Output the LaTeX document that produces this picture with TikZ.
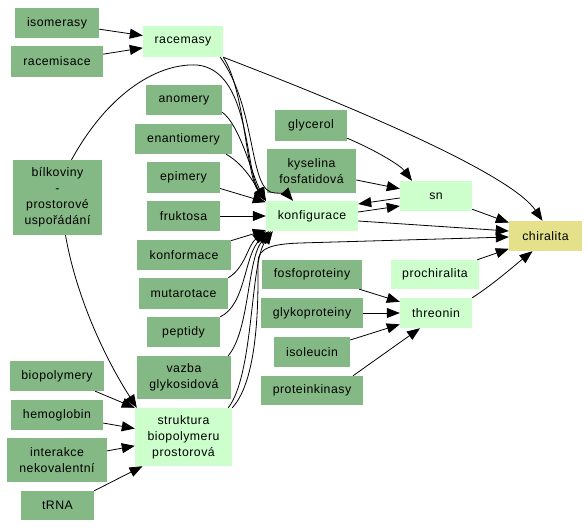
\documentclass[tikz,border=0pt]{standalone}
\usepackage{fontspec}
\setmainfont{Liberation Sans}[LetterSpace=4]
\usetikzlibrary{arrows.meta}
\definecolor{dkg}{HTML}{84B884}
\definecolor{ltg}{HTML}{CCFFCC}
\definecolor{yel}{HTML}{E5E08A}
\tikzset{
  box/.style={inner sep=0pt, align=center, font=\fontsize{12.3}{16}\selectfont},
  dk/.style={box, fill=dkg},
  lt/.style={box, fill=ltg},
  yl/.style={box, fill=yel},
  e/.style={line width=0.8pt, -{Triangle[length=13pt,width=10pt]}},
}
\begin{document}
\begin{tikzpicture}[x=1pt,y=-1pt]
\useasboundingbox (0,0) rectangle (588,527);
% nodes
\node[dk, minimum width=84pt, minimum height=30pt] (iso) at (57,23) {isomerasy};
\node[dk, minimum width=92pt, minimum height=31pt] (rcs) at (57,61.5) {racemisace};
\node[lt, minimum width=80pt, minimum height=31pt] (rcm) at (183,41.5) {racemasy};
\node[dk, minimum width=76pt, minimum height=30pt] (ano) at (184,100) {anomery};
\node[dk, minimum width=97pt, minimum height=30pt] (ena) at (183.5,139) {enantiomery};
\node[dk, minimum width=73pt, minimum height=31pt] (epi) at (183.5,177.5) {epimery};
\node[dk, minimum width=73pt, minimum height=30pt] (fru) at (183.5,216) {fruktosa};
\node[dk, minimum width=94pt, minimum height=30pt] (kfm) at (184,255) {konformace};
\node[dk, minimum width=89pt, minimum height=31pt] (mut) at (183.5,293.5) {mutarotace};
\node[dk, minimum width=73pt, minimum height=30pt] (pep) at (183.5,332) {peptidy};
\node[dk, minimum width=94pt, minimum height=43pt] (vaz) at (184,377.5) {vazba\\glykosidová};
\node[lt, minimum width=97pt, minimum height=58pt] (str) at (183.5,437) {struktura\\biopolymeru\\prostorová};
\node[dk, minimum width=89pt, minimum height=75pt] (bil) at (57.5,197.5) {bílkoviny\\-\\prostorové\\uspořádání};
\node[dk, minimum width=94pt, minimum height=30pt] (bpl) at (57,376) {biopolymery};
\node[dk, minimum width=92pt, minimum height=30pt] (hem) at (57,415) {hemoglobin};
\node[dk, minimum width=100pt, minimum height=44pt] (int) at (57,460) {interakce\\nekovalentní};
\node[dk, minimum width=73pt, minimum height=29pt] (trna) at (57.5,505.5) {tRNA};
\node[dk, minimum width=72pt, minimum height=31pt] (gly) at (311,125.5) {glycerol};
\node[dk, minimum width=89pt, minimum height=44pt] (kys) at (311.5,171) {kyselina\\fosfatidová};
\node[lt, minimum width=92pt, minimum height=30pt] (konf) at (312,216) {konfigurace};
\node[lt, minimum width=72pt, minimum height=30pt] (sn) at (436,196) {sn};
\node[yl, minimum width=73pt, minimum height=30pt] (chi) at (545.5,236) {chiralita};
\node[lt, minimum width=88pt, minimum height=29pt] (pro) at (435,274.5) {prochiralita};
\node[dk, minimum width=100pt, minimum height=29pt] (fos) at (312,274.5) {fosfoproteiny};
\node[dk, minimum width=102pt, minimum height=30pt] (gpr) at (312,313) {glykoproteiny};
\node[lt, minimum width=72pt, minimum height=30pt] (thr) at (436,313) {threonin};
\node[dk, minimum width=76pt, minimum height=30pt] (ile) at (312,352) {isoleucin};
\node[dk, minimum width=102pt, minimum height=29pt] (pki) at (312,390.5) {proteinkinasy};
% edges
\draw[e] (iso) -- (rcm);
\draw[e] (rcs) -- (rcm);
\draw[e] (rcm.south east) .. controls (400,125) and (515,180) .. ([xshift=-3pt]chi.north);
\draw[e] (rcm.south east) .. controls (245,90) and (246,175) .. (konf.north west);
\draw[e] ([xshift=-3pt]rcm.south east) .. controls (258,110) and (248,193) .. (275,193) .. controls (282,193) and (288,195) .. ([xshift=-19pt]konf.north);
\draw[e] ([xshift=14pt]bil.north) .. controls (110,90) and (160,63) .. (197,65) .. controls (250,70) and (245,170) .. (konf.north west);
\draw[e] ([yshift=3pt]ano.south east) .. controls (240,125) and (252,175) .. (konf.north west);
\draw[e] ([xshift=-6pt]ena.south east) .. controls (245,165) and (255,185) .. (konf.north west);
\draw[e] (epi) -- (konf);
\draw[e] (fru) -- (konf);
\draw[e] (kfm) -- (konf);
\draw[e] (mut.north east) .. controls (245,268) and (248,245) .. (konf.south west);
\draw[e] (pep.north east) .. controls (246,305) and (244,255) .. ([xshift=3pt]konf.south west);
\draw[e] ([xshift=-3pt]vaz.north east) .. controls (250,330) and (247,258) .. ([xshift=5pt]konf.south west);
\draw[e] ([xshift=-4pt]str.north east) .. controls (254,375) and (250,262) .. ([xshift=7pt]konf.south west);
\draw[e] (str.north east) .. controls (260,378) and (258,290) .. (258,262) .. controls (258,248) and (272,244) .. (300,243) -- ([yshift=-1pt]chi.west);
\draw[e] ([yshift=-5pt]konf.east) -- ([yshift=5pt]chi.west);
\draw[e] ([yshift=-2pt]sn.west) -- ([yshift=12pt]konf.east);
\draw[e] ([yshift=4pt]konf.east) -- ([yshift=-10pt]sn.west);
\draw[e] (kys) -- (sn);
\draw[e] ([yshift=3pt]gly.south east) .. controls (375,150) and (400,165) .. ([xshift=-24pt]sn.north);
\draw[e] (sn) -- (chi);
\draw[e] (pro) -- (chi);
\draw[e] (thr.north east) .. controls (495,283) and (515,265) .. ([xshift=-13pt]chi.south);
\draw[e] (fos) -- (thr);
\draw[e] (gpr) -- (thr);
\draw[e] (ile) -- (thr);
\draw[e] ([xshift=41pt]pki.north) -- ([xshift=-16pt]thr.south);
\draw[e] ([xshift=8pt]bil.south) .. controls (75,290) and (100,350) .. ([xshift=2pt]str.north west);
\draw[e] ([xshift=-9pt]bpl.south east) -- (str.north west);
\draw[e] (hem) -- (str);
\draw[e] (int) -- (str);
\draw[e] (trna.north east) -- ([xshift=-41pt]str.south);
\end{tikzpicture}
\end{document}
